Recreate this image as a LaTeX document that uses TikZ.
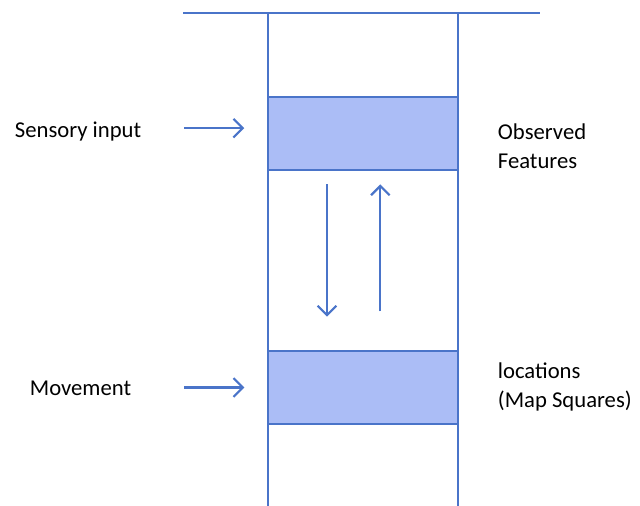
\documentclass[tikz,border=0pt]{standalone}
\usepackage{fontspec}
\setmainfont{Carlito}
\usetikzlibrary{arrows.meta, positioning}

\definecolor{lineblue}{HTML}{4A74C9}
\definecolor{boxblue}{HTML}{ABBDF6}

\tikzset{
    wall/.style = {draw = lineblue, line width = 1.6pt},
    layer/.style = {draw = lineblue, line width = 1.6pt, fill = boxblue, minimum width = 142.5pt, minimum height = 54.75pt, inner sep = 0pt},
    flow/.style = {draw = lineblue, line width = 1.6pt, -{Straight Barb[length = 7pt, width = 14pt, line width = 1.6pt]}},
    label/.style = {font = \fontsize{17}{21.75}\selectfont, align = left, inner sep = 2pt}
}

\begin{document}
\begin{tikzpicture}[x = 0.75pt, y = -0.75pt]
    \useasboundingbox (0, 0) rectangle (640, 506);

    % the column
    \draw[wall] (183, 13) -- (540, 13);
    \draw[wall] (268, 13) -- (268, 506);
    \draw[wall] (458, 13) -- (458, 506);

    \node[layer] (feat) at (363, 133.5) {};
    \node[layer] (loc) at (363, 387.5) {};

    % labels
    \node[label, anchor = west] (sens) at (12, 132) {Sensory input};
    \node[label, anchor = west] (move) at (27, 388) {Movement};
    \node[label, anchor = west] (obs) at (495, 146) {Observed\\Features};
    \node[label, anchor = west] (maps) at (495, 387) {locations\\(Map Squares)};

    % inputs
    \draw[flow] ([xshift = -62pt, yshift = 4pt] feat.west) -- ([xshift = -17pt, yshift = 4pt] feat.west);
    \draw[flow] ([xshift = -62pt] loc.west) -- ([xshift = -17pt] loc.west);

    % between the layers
    \draw[flow] ([xshift = -27pt, yshift = -10pt] feat.south) -- ([xshift = -27pt, yshift = 25pt] loc.north);
    \draw[flow] ([xshift = 13pt, yshift = 29pt] loc.north) -- ([xshift = 13pt, yshift = -10pt] feat.south);
\end{tikzpicture}
\end{document}
